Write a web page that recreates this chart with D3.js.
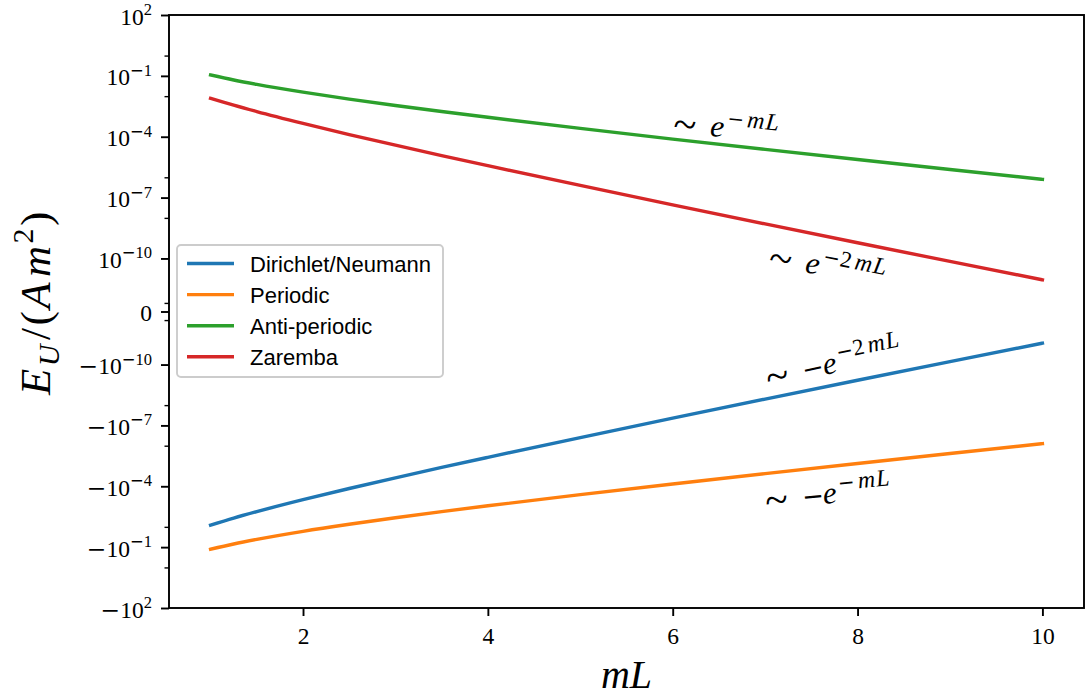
<!DOCTYPE html>
<html><head><meta charset="utf-8">
<script src="https://cdn.jsdelivr.net/npm/d3@7"></script>
<style>body{margin:0;background:#fff}</style>
</head><body>
<svg id="chart" width="1090" height="697"></svg>
<script>
// ---- data ----
const mL = [1, 1.25, 1.5, 2, 2.5, 3, 3.5, 4, 5, 6, 7, 8, 9, 10];
const dirichlet = [-8.32e-3, -3.72e-3, -1.78e-3, -4.57e-4, -1.29e-4, -3.84e-5, -1.18e-5, -3.75e-6, -3.97e-7, -4.41e-8, -5.06e-9, -5.95e-10, -7.11e-11, -8.61e-12];
const periodic = [-1.27e-1, -6.98e-2, -4.14e-2, -1.66e-2, -7.45e-3, -3.56e-3, -1.78e-3, -9.15e-4, -2.58e-4, -7.68e-5, -2.37e-5, -7.51e-6, -2.42e-6, -7.95e-7];
const antiperiodic = [1.10e-1, 6.24e-2, 3.78e-2, 1.57e-2, 7.19e-3, 3.48e-3, 1.75e-3, 9.07e-4, 2.57e-4, 7.67e-5, 2.37e-5, 7.51e-6, 2.42e-6, 7.95e-7];
const zaremba = [7.86e-3, 3.60e-3, 1.74e-3, 4.54e-4, 1.28e-4, 3.83e-5, 1.18e-5, 3.75e-6, 3.97e-7, 4.41e-8, 5.06e-9, 5.95e-10, 7.11e-11, 8.61e-12];
const seriesNames = ["Dirichlet/Neumann", "Periodic", "Anti-periodic", "Zaremba"];
const seriesColors = ["#1f77b4", "#ff7f0e", "#2ca02c", "#d62728"];
const xTicks = [2, 4, 6, 8, 10];
const yTicks = [100, 1e-1, 1e-4, 1e-7, 1e-10, 0, -1e-10, -1e-7, -1e-4, -1e-1, -100];
const yTickLabels = ["10^2", "10^−1", "10^−4", "10^−7", "10^−10", "0", "−10^−10", "−10^−7", "−10^−4", "−10^−1", "−10^2"];
const yMinorTicks = [1, 1e-2, 1e-6, 1e-8, 4e-13, -4e-13, -1e-8, -1e-6, -1e-2, -1];
// annotations (anchor in data units, rotation in degrees, text pieces)
const annotX = [6.0, 7.03, 7.03, 7.01];
const annotY = [1.71e-4, 4.74e-11, -1.28e-9, -1.42e-3];
const annotAngle = [6, 11, -12, -5.5];
const annotNeg = [false, false, true, true];
const annotTwo = [false, true, true, false];

// ---- layout ----
const pL = 169, pR = 1084, pT = 15, pB = 608;
const svg = d3.select("#chart");
const serif = "'Liberation Serif', 'DejaVu Serif', serif";
const sans = "'Liberation Sans', 'DejaVu Sans', sans-serif";
const minusFont = "'DejaVu Sans', sans-serif";

const x = d3.scaleLinear().domain([0.55, 10.45]).range([pL, pR]);
const y = d3.scaleSymlog().constant(2.43e-13).domain([-100, 100]).range([pB, pT]);

svg.append("defs").append("clipPath").attr("id", "clip")
  .append("rect").attr("x", pL).attr("y", pT).attr("width", pR - pL).attr("height", pB - pT);

// ---- lines ----
const allSeries = [dirichlet, periodic, antiperiodic, zaremba];
const line = d3.line().x(d => x(d[0])).y(d => y(d[1])).curve(d3.curveMonotoneX);
const gLines = svg.append("g").attr("clip-path", "url(#clip)");
allSeries.forEach((s, i) => {
  gLines.append("path")
    .datum(mL.map((v, j) => [v, s[j]]))
    .attr("d", line)
    .attr("fill", "none")
    .attr("stroke", seriesColors[i])
    .attr("stroke-width", 3.4)
    .attr("stroke-linecap", "square");
});

// ---- axes ----
const xAxis = d3.axisBottom(x).tickValues(xTicks).tickSize(8).tickPadding(6).tickFormat(d3.format("d"));
const gx = svg.append("g").attr("transform", `translate(0,${pB})`).call(xAxis);
gx.select(".domain").remove();
gx.selectAll(".tick line").attr("stroke", "#000").attr("stroke-width", 1.9);
gx.selectAll(".tick text").attr("font-family", serif).attr("font-size", 23.5).attr("fill", "#000").attr("dy", "0.95em");

const yAxis = d3.axisLeft(y).tickValues(yTicks).tickSize(8).tickFormat("");
const gy = svg.append("g").attr("transform", `translate(${pL},0)`).call(yAxis);
gy.select(".domain").remove();
gy.selectAll(".tick line").attr("stroke", "#000").attr("stroke-width", 1.9);
const yMinorAxis = d3.axisLeft(y).tickValues(yMinorTicks).tickSize(4.5).tickFormat("");
const gym = svg.append("g").attr("transform", `translate(${pL},0)`).call(yMinorAxis);
gym.select(".domain").remove();
gym.selectAll(".tick line").attr("stroke", "#000").attr("stroke-width", 1.4);

// y tick labels with superscripts; minus signs drawn wide like TeX
function addRun(t, str, size, dy) {
  let first = true;
  str.split(/(−)/).filter(s => s.length).forEach(part => {
    const sp = t.append("tspan").attr("font-size", size).text(part);
    if (part === "−") sp.attr("font-family", minusFont);
    if (first && dy) sp.attr("dy", dy);
    first = false;
  });
}
yTicks.forEach((v, i) => {
  const parts = yTickLabels[i].split("^");
  const t = svg.append("text")
    .attr("x", pL - 17)
    .attr("y", y(v) + 9.5)
    .attr("text-anchor", "end")
    .attr("font-family", serif)
    .attr("fill", "#000");
  addRun(t, parts[0], 23.5, 0);
  if (parts.length > 1) addRun(t, parts[1], 16.5, -9.5);
});

// frame
svg.append("rect").attr("x", pL).attr("y", pT).attr("width", pR - pL).attr("height", pB - pT)
  .attr("fill", "none").attr("stroke", "#000").attr("stroke-width", 1.9);

// axis labels
svg.append("text").attr("x", (pL + pR) / 2).attr("y", 688)
  .attr("text-anchor", "middle").attr("font-family", serif).attr("font-style", "italic")
  .attr("font-size", 40).attr("fill", "#000").text("mL");

const yl = svg.append("text")
  .attr("transform", `translate(50,302) rotate(-90)`)
  .attr("text-anchor", "middle").attr("font-family", serif).attr("font-size", 43)
  .attr("letter-spacing", 2.5).attr("fill", "#000");
yl.append("tspan").attr("font-style", "italic").text("E");
yl.append("tspan").attr("font-style", "italic").attr("font-size", 30).attr("dy", 9).text("U");
yl.append("tspan").attr("dy", -9).attr("dx", 2).text("/(");
yl.append("tspan").attr("font-style", "italic").text("A");
yl.append("tspan").attr("font-style", "italic").attr("dx", 3).text("m");
yl.append("tspan").attr("font-size", 30).attr("dy", -17).text("2");
yl.append("tspan").attr("dy", 17).text(")");

// annotations
annotX.forEach((ax, i) => {
  const g = svg.append("g").attr("transform", `translate(${x(ax)},${y(annotY[i])}) rotate(${annotAngle[i]})`);
  const tx = (str, px, py, size, fam, italic) => {
    const t = g.append("text").attr("x", px).attr("y", py).attr("font-size", size)
      .attr("font-family", fam).attr("fill", "#000").text(str);
    if (italic) t.attr("font-style", "italic");
    return t;
  };
  tx("~", 0, 5, 42, serif, false);
  const E = annotNeg[i] ? 58 : 37;
  if (annotNeg[i]) tx("−", 37, 0, 26, minusFont, false);
  tx("e", E, 0, 31, serif, true);
  const sy = -12.5;
  tx("−", E + 16, sy, 20, minusFont, false);
  let mx = E + 36;
  if (annotTwo[i]) { tx("2", E + 33, sy, 23, serif, false); mx = E + 48; }
  tx("m", mx, sy, 24, serif, true);
  tx("L", mx + 18.5, sy, 24, serif, true);
});

// legend
const lg = svg.append("g");
lg.append("rect").attr("x", 177).attr("y", 245).attr("width", 266).attr("height", 132)
  .attr("rx", 4).attr("fill", "#fff").attr("fill-opacity", 0.8).attr("stroke", "#cccccc").attr("stroke-width", 1.9);
seriesNames.forEach((name, i) => {
  const cy = 263.5 + i * 31.1;
  lg.append("line").attr("x1", 187).attr("x2", 234).attr("y1", cy).attr("y2", cy)
    .attr("stroke", seriesColors[i]).attr("stroke-width", 3.4);
  lg.append("text").attr("x", 250).attr("y", cy + 8).attr("font-family", sans).attr("font-size", 22)
    .attr("fill", "#000").text(name);
});
</script>
</body></html>
